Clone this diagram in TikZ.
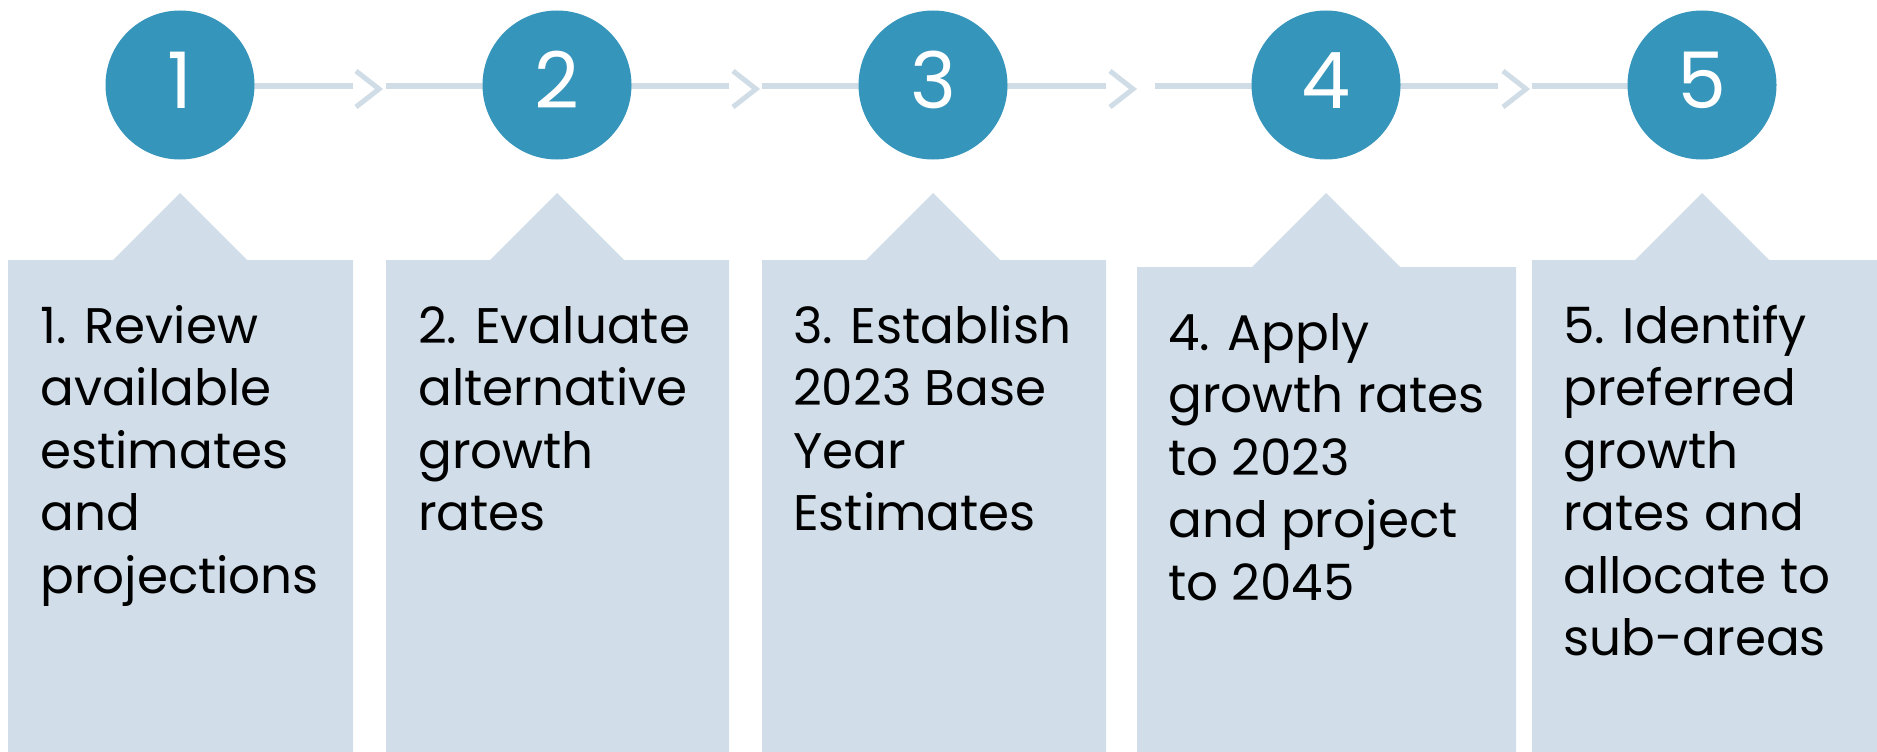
\documentclass[tikz,border=0pt]{standalone}
\usepackage{fontspec}
\setmainfont{Poppins}
\definecolor{stepblue}{RGB}{54,149,186}
\definecolor{boxfill}{RGB}{209,222,233}
\definecolor{linecol}{RGB}{208,221,231}
\begin{document}
\begin{tikzpicture}[x=1pt,y=-1pt,
  stepcircle/.style={circle,fill=stepblue,minimum size=149pt,inner sep=0pt},
  digit/.style={text=white,font=\fontsize{78}{80}\selectfont},
  boxshape/.style={fill=boxfill,draw=none},
  conn/.style={draw=linecol,line width=5pt},
  chev/.style={draw=linecol,line width=5pt,line cap=butt,line join=miter},
  steptext/.style={anchor=base west,align=left,inner sep=0pt,text=black,
    font=\fontsize{50}{62.5}\selectfont}]
\useasboundingbox (0,0) rectangle (1877,752);
% boxes
\path[boxshape] (8,260) -- (113,260) -- (180,193) -- (247,260) -- (353,260) -- (353,752) -- (8,752) -- cycle;
\path[boxshape] (386,260) -- (490,260) -- (557,193) -- (624,260) -- (729,260) -- (729,752) -- (386,752) -- cycle;
\path[boxshape] (762,260) -- (866,260) -- (933,193) -- (1000,260) -- (1106,260) -- (1106,752) -- (762,752) -- cycle;
\path[boxshape] (1137,267) -- (1252,267) -- (1326,193) -- (1400,267) -- (1516,267) -- (1516,752) -- (1137,752) -- cycle;
\path[boxshape] (1532,260) -- (1635,260) -- (1702,193) -- (1769,260) -- (1877,260) -- (1877,752) -- (1532,752) -- cycle;
% connector end points
\coordinate (l1) at (180,86); \coordinate (r1) at (353,86); \coordinate (t1) at (379,89);
\coordinate (l2) at (386,86); \coordinate (r2) at (729,86); \coordinate (t2) at (756,89);
\coordinate (l3) at (762,86); \coordinate (r3) at (1106,86); \coordinate (t3) at (1133,89);
\coordinate (l4) at (1155,86); \coordinate (r4) at (1498,86); \coordinate (t4) at (1526,89);
\coordinate (l5) at (1532,86); \coordinate (r5) at (1702,86);
\foreach \i in {1,2,3,4}{
  \draw[conn] (l\i) -- (r\i);
  \draw[chev] (t\i) ++(-23,-18) -- (t\i) -- ++(-23,18);
}
\draw[conn] (l5) -- (r5);
% circles
\node[stepcircle] (c1) at (180,85) {};
\node[stepcircle] (c2) at (557,85) {};
\node[stepcircle] (c3) at (933,85) {};
\node[stepcircle] (c4) at (1326,85) {};
\node[stepcircle] (c5) at (1702,85) {};
\node[digit,anchor=base] (d1) at (180,108) {1};
\node[digit,anchor=base] (d2) at (557,108) {2};
\node[digit,anchor=base] (d3) at (933,108) {3};
\node[digit,anchor=base] (d4) at (1326,108) {4};
\node[digit,anchor=base] (d5) at (1702,108) {5};
% texts (anchor at baseline of last line)
\node[steptext] (s1) at (40,593) {1. Review\\available\\estimates\\and\\projections};
\node[steptext] (s2) at (418,530.5) {2. Evaluate\\alternative\\growth\\rates};
\node[steptext] (s3) at (793,530.5) {3. Establish\\2023 Base\\Year\\Estimates};
\node[steptext] (s4) at (1168,600) {4. Apply\\growth rates\\to 2023\\and project\\to 2045};
\node[steptext] (s5) at (1563,655.5) {5. Identify\\preferred\\growth\\rates and\\allocate to\\sub-areas};
\end{tikzpicture}
\end{document}
